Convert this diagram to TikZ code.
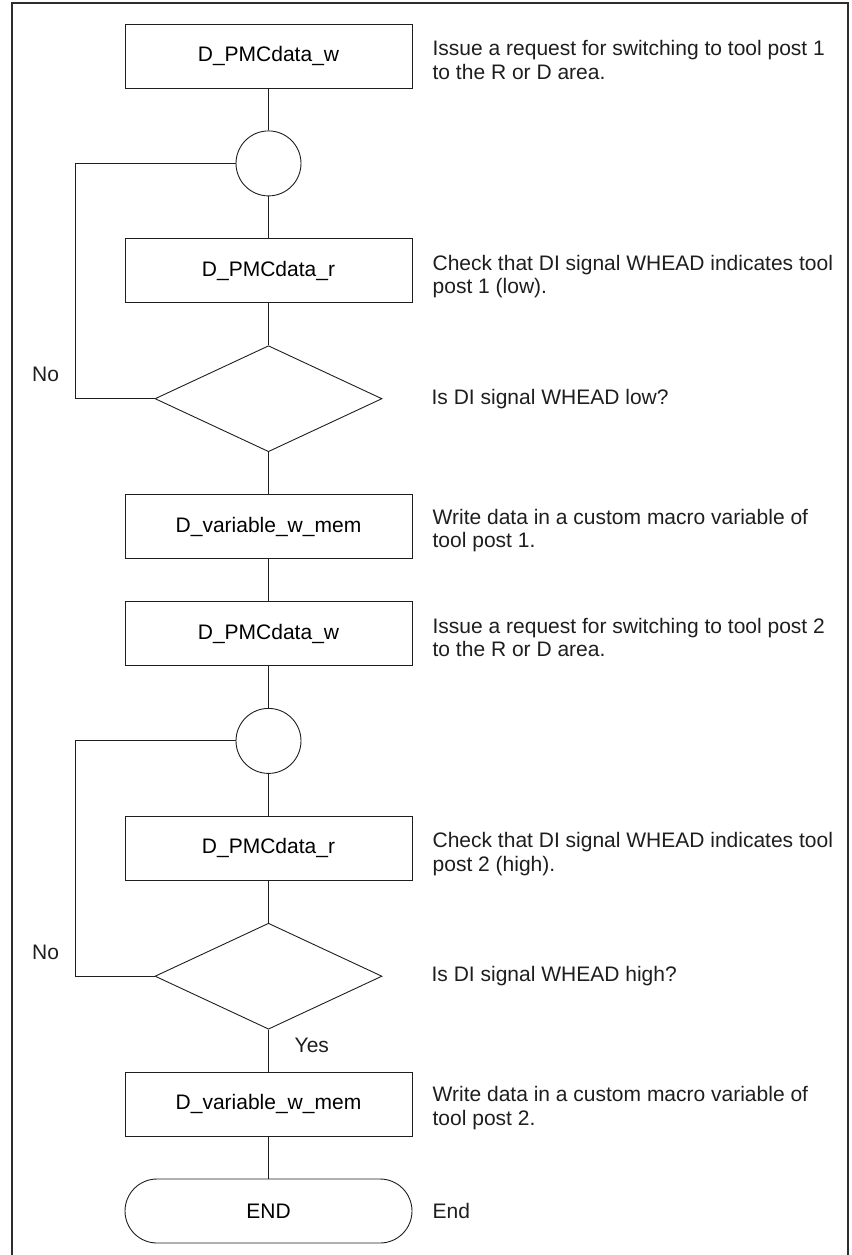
\documentclass[tikz,border=0pt]{standalone}
\usepackage{xcolor}
\usepackage{fontspec}
\setmainfont{Liberation Sans}
\usepackage{tikz}
\usetikzlibrary{positioning, shapes.geometric}
\definecolor{ink}{HTML}{1E1E1E}
\definecolor{frameBorder}{HTML}{2D2D2D}

\tikzset{
  proc/.style={draw=ink, line width=0.9pt, rectangle, minimum width=287pt,
               minimum height=64pt, inner sep=0pt},
  joint/.style={draw=ink, line width=0.9pt, circle, minimum size=65pt, inner sep=0pt},
  decide/.style={draw=ink, line width=0.9pt, diamond, minimum width=227pt,
                 minimum height=106pt, inner sep=0pt},
  term/.style={draw=ink, line width=0.9pt, rectangle, rounded corners=32pt,
               minimum width=287pt, minimum height=64pt, inner sep=0pt},
  note/.style={anchor=west, align=left, inner sep=0pt, text=ink},
  lbl/.style={inner sep=0pt, text=ink},
  flow/.style={draw=ink, line width=0.9pt}
}

\begin{document}
\begin{tikzpicture}[node distance=42pt, font=\fontsize{21}{23.5}\selectfont]
      \useasboundingbox (0,0) rectangle (851pt,-1255pt);
      \draw[frameBorder, line width=2pt] (12pt,-1255pt) |- (848pt,-3pt) -- (848pt,-1255pt);

      \node[proc] (w1) at (268.5pt,-56pt) {D\_PMCdata\_w};
      \node[joint, below=of w1] (c1) {};
      \node[proc, below=of c1] (r1) {D\_PMCdata\_r};
      \node[decide, below=of r1] (q1) {};
      \node[proc, below=of q1] (m1) {D\_variable\_w\_mem};
      \node[proc, below=of m1] (w2) {D\_PMCdata\_w};
      \node[joint, below=of w2] (c2) {};
      \node[proc, below=of c2] (r2) {D\_PMCdata\_r};
      \node[decide, below=of r2] (q2) {};
      \node[proc, below=of q2] (m2) {D\_variable\_w\_mem};
      \node[term, below=of m2] (fin) {END};

      \draw[flow] (w1) -- (c1) -- (r1) -- (q1) -- (m1) -- (w2) -- (c2)
                  -- (r2) -- (q2) -- (m2) -- (fin);

      % loops back to the joints
      \coordinate (k1) at ([xshift=-79pt]q1.west);
      \coordinate (k2) at ([xshift=-79pt]q2.west);
      \draw[flow] (q1.west) -- (k1) |- (c1.west);
      \draw[flow] (q2.west) -- (k2) |- (c2.west);
      \node[lbl] (no1) at ([xshift=-30pt,yshift=24pt]k1) {No};
      \node[lbl] (no2) at ([xshift=-30pt,yshift=24pt]k2) {No};
      \node[lbl, anchor=west] (yes) at ([xshift=26pt,yshift=-16pt]q2.south) {Yes};

      % remarks
      \node[note] (t1) at ([xshift=20pt,yshift=-4pt]w1.east)
        {Issue a request for switching to tool post 1\\to the R or D area.};
      \node[note] (t2) at ([xshift=20pt,yshift=-6pt]r1.east)
        {Check that DI signal WHEAD indicates tool\\post 1 (low).};
      \node[note] (t3) at ([xshift=49pt]q1.east) {Is DI signal WHEAD low?};
      \node[note] (t4) at ([xshift=20pt,yshift=-4pt]m1.east)
        {Write data in a custom macro variable of\\tool post 1.};
      \node[note] (t5) at ([xshift=20pt,yshift=-4pt]w2.east)
        {Issue a request for switching to tool post 2\\to the R or D area.};
      \node[note] (t6) at ([xshift=20pt,yshift=-6pt]r2.east)
        {Check that DI signal WHEAD indicates tool\\post 2 (high).};
      \node[note] (t7) at ([xshift=49pt]q2.east) {Is DI signal WHEAD high?};
      \node[note] (t8) at ([xshift=20pt,yshift=-4pt]m2.east)
        {Write data in a custom macro variable of\\tool post 2.};
      \node[note] (t9) at ([xshift=20pt]fin.east) {End};
\end{tikzpicture}
\end{document}
